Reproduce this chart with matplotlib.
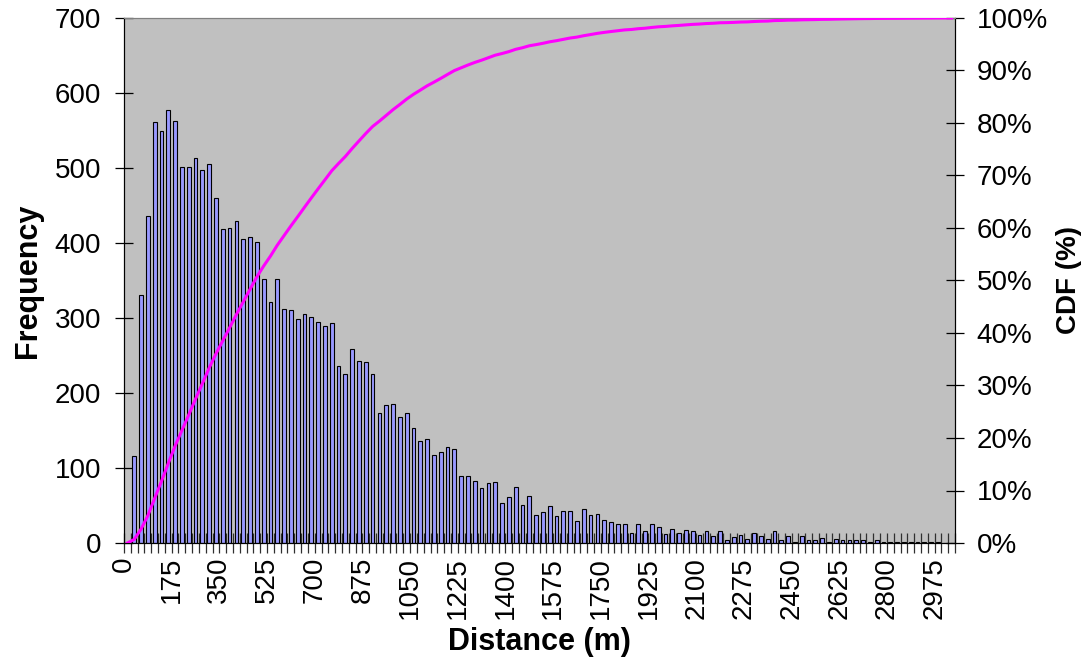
import matplotlib
matplotlib.use("Agg")
import matplotlib.pyplot as plt
import numpy as np
from matplotlib.ticker import FuncFormatter

plt.rcParams['font.family'] = ['Liberation Sans', 'DejaVu Sans']

# histogram of distances, 25 m bins starting at 0
bin_width = 25
frequency = [0, 116, 331, 436, 561, 550, 578, 563, 502, 502,
             514, 498, 505, 460, 419, 420, 429, 406, 408, 401,
             352, 321, 352, 312, 311, 299, 305, 302, 295, 290,
             293, 236, 226, 259, 243, 241, 226, 174, 184, 186,
             168, 174, 153, 136, 139, 118, 122, 128, 125, 90,
             90, 83, 73, 80, 81, 54, 61, 75, 51, 63,
             38, 42, 49, 36, 43, 43, 30, 45, 37, 39,
             31, 28, 26, 26, 14, 25, 16, 25, 21, 12,
             19, 14, 17, 16, 11, 16, 9, 16, 4, 8,
             11, 5, 13, 9, 5, 16, 4, 9, 2, 9,
             4, 4, 7, 2, 6, 4, 4, 4, 4, 2,
             4, 1, 2, 1, 2, 2, 1, 2, 1, 2,
             0, 0]
label_every = 7

freq = np.array(frequency, dtype=float)
n = len(freq)
cdf = np.cumsum(freq) / freq.sum()

fig = plt.figure(figsize=(10.91, 6.64), dpi=100)
ax = fig.add_axes([124/1091, 1-543/664, (955-124)/1091, (543-18)/664])
ax.set_facecolor('#C0C0C0')

pos = np.arange(n) + 0.5
ax.bar(pos, freq, width=0.55, color='#9999FF', edgecolor='black', linewidth=0.8, zorder=2)
ax.set_xlim(0, n)
ax.set_ylim(0, 700)
ax.set_yticks(np.arange(0, 701, 100))

ticks = np.arange(0, n + 1)
labels = [str(k * bin_width) if (k % label_every == 0 and k < n - 1) else '' for k in ticks]
ax.set_xticks(ticks)
ax.set_xticklabels(labels, rotation=90, fontsize=20)
ax.tick_params(axis='x', direction='inout', length=14, width=0.9, color='#303030', pad=3)
ax.tick_params(axis='y', direction='inout', length=13, width=0.9, labelsize=20, pad=10)

ax2 = ax.twinx()
ax2.plot(pos, cdf, color='#FF00FF', linewidth=2.2, zorder=3)
ax2.set_ylim(0, 1)
ax2.set_yticks(np.arange(0, 1.01, 0.1))
ax2.yaxis.set_major_formatter(FuncFormatter(lambda v, p: '%d%%' % round(v * 100)))
ax2.tick_params(axis='y', direction='inout', length=13, width=0.9, labelsize=20, pad=9)

for a in (ax, ax2):
    a.spines['top'].set_color('#808080')
    a.spines['top'].set_linewidth(0.8)
    a.spines['left'].set_color('black')
    a.spines['right'].set_color('black')
    a.spines['bottom'].set_color('black')

ax.set_ylabel('Frequency', fontsize=22, fontweight='bold', labelpad=8)
ax2.set_ylabel('CDF (%)', fontsize=20, fontweight='bold', rotation=90, labelpad=6)
ax.set_xlabel('Distance (m)', fontsize=22, fontweight='bold', labelpad=6)

fig.savefig('out.png', dpi=100)
